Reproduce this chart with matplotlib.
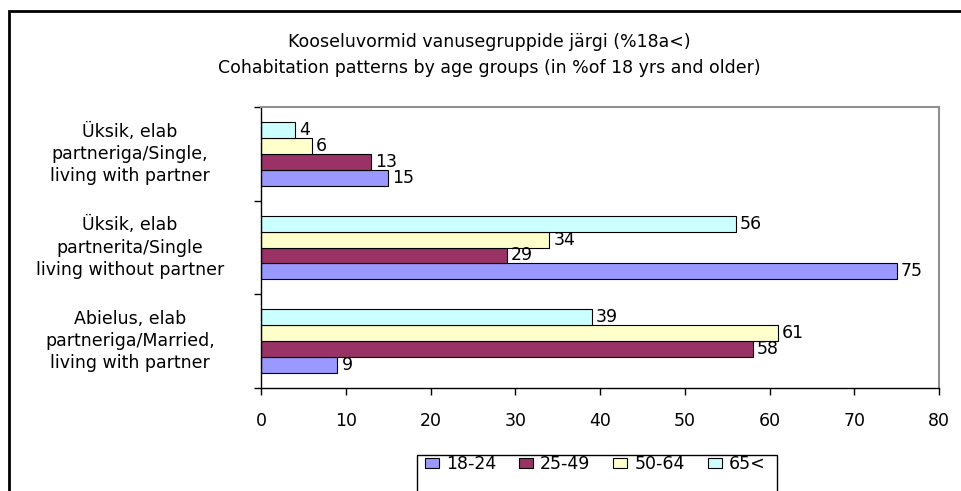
import numpy as np
import matplotlib.pyplot as plt
from matplotlib.patches import Rectangle

categories = ["Abielus, elab\npartneriga/Married,\nliving with partner",
              "Üksik, elab\npartnerita/Single\nliving without partner",
              "Üksik, elab\npartneriga/Single,\nliving with partner"]
groups = ["18-24", "25-49", "50-64", "65<"]
v_18_24 = [9, 75, 15]
v_25_49 = [58, 29, 13]
v_50_64 = [61, 34, 6]
v_65 = [39, 56, 4]
xticks = [0, 10, 20, 30, 40, 50, 60, 70, 80]

colors = ["#9999FF", "#993366", "#FFFFCC", "#CCFFFF"]
series = [v_18_24, v_25_49, v_50_64, v_65]

plt.rcParams["font.family"] = "DejaVu Sans"
fs = 12.5
fig = plt.figure(figsize=(9.61, 4.91), dpi=100)
W, H = 961, 491
ax = fig.add_axes([261 / W, 1 - 388 / H, (939 - 261) / W, (388 - 107) / H])

y = np.arange(len(categories))
h = 0.17
for i, vals in enumerate(series):
  pos = y + (i - 1.5) * h
  ax.barh(pos, vals, height=h, color=colors[i], edgecolor="black", linewidth=0.8, label=groups[i])
  for p, v in zip(pos, vals):
    ax.annotate(str(v), (v, p), xytext=(3, 0), textcoords="offset points",
                va="center", ha="left", fontsize=fs)

ax.set_xlim(0, 80)
ax.set_ylim(-0.5, 2.5)
ax.set_xticks(xticks)
ax.tick_params(axis="x", direction="out", length=5, width=1, labelsize=fs, pad=12)
ax.set_yticks([-0.5, 0.5, 1.5, 2.5])
ax.set_yticklabels([])
ax.tick_params(axis="y", direction="out", length=5, width=1)
for s in ["top", "right"]:
  ax.spines[s].set_color("#909090")
  ax.spines[s].set_linewidth(1.5)
for s in ["left", "bottom"]:
  ax.spines[s].set_color("black")
  ax.spines[s].set_linewidth(1)

for yy, lab in zip(y, categories):
  ax.text((130 - 261) / (939 - 261), yy, lab, transform=ax.get_yaxis_transform(),
          ha="center", va="center", multialignment="center", fontsize=fs, linespacing=1.3)

fig.text(489 / W, 1 - 42 / H, "Kooseluvormid vanusegruppide järgi (%18a<)", ha="center", va="center", fontsize=fs)
fig.text(489 / W, 1 - 68 / H, "Cohabitation patterns by age groups (in %of 18 yrs and older)", ha="center", va="center", fontsize=fs)

# outer chart frame, right and bottom edges fall outside the picture
fig.patches.append(Rectangle((9 / W, -0.2), 1.2, 1 - 11 / H + 0.2, transform=fig.transFigure,
                             fill=False, edgecolor="black", linewidth=2))
# legend box, bottom cut off too
fig.patches.append(Rectangle((417 / W, -0.1), (777 - 417) / W, 1 - 455 / H + 0.1, transform=fig.transFigure,
                             fill=False, edgecolor="black", linewidth=1))
fig.legend(loc="center left", bbox_to_anchor=(425 / W, 1 - 464 / H), ncol=4, frameon=False,
           fontsize=fs, handlelength=0.8, handleheight=0.55, handletextpad=0.4, columnspacing=1.33,
           borderpad=0, borderaxespad=0)

fig.savefig("out.png", dpi=100)
